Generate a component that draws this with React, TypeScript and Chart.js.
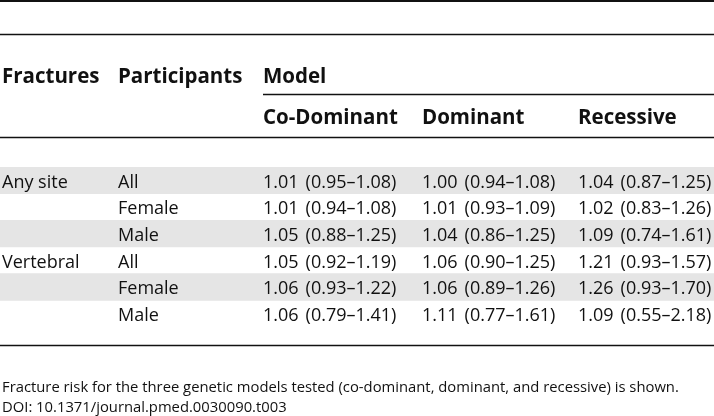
import React, { useEffect, useRef } from "react";
import { Chart, registerables } from "chart.js";

Chart.register(...registerables);

const fractures = ["Any site", "", "", "Vertebral", "", ""];
const participants = ["All", "Female", "Male", "All", "Female", "Male"];
const modelNames = ["Co-Dominant", "Dominant", "Recessive"];
const coDominantOR = [1.01, 1.01, 1.05, 1.05, 1.06, 1.06];
const coDominantLo = [0.95, 0.94, 0.88, 0.92, 0.93, 0.79];
const coDominantHi = [1.08, 1.08, 1.25, 1.19, 1.22, 1.41];
const dominantOR = [1.0, 1.01, 1.04, 1.06, 1.06, 1.11];
const dominantLo = [0.94, 0.93, 0.86, 0.9, 0.89, 0.77];
const dominantHi = [1.08, 1.09, 1.25, 1.25, 1.26, 1.61];
const recessiveOR = [1.04, 1.02, 1.09, 1.21, 1.26, 1.09];
const recessiveLo = [0.87, 0.83, 0.74, 0.93, 0.93, 0.55];
const recessiveHi = [1.25, 1.26, 1.61, 1.57, 1.7, 2.18];
const headers = ["Fractures", "Participants", "Model"];
const captionLines = [
  "Fracture risk for the three genetic models tested (co-dominant, dominant, and recessive) is shown.",
  "DOI: 10.1371/journal.pmed.0030090.t003",
];

const models = [
  { or: coDominantOR, lo: coDominantLo, hi: coDominantHi },
  { or: dominantOR, lo: dominantLo, hi: dominantHi },
  { or: recessiveOR, lo: recessiveLo, hi: recessiveHi },
];

const W = 714;
const H = 416;
const colX = [2, 118, 263, 422, 578];
const CI_GAP = 7;
const INK = "#111";
const FONT = "'Open Sans'";

const tablePlugin = {
  id: "tablePlugin",
  afterDatasetsDraw(chart: any) {
    const ctx = chart.ctx as CanvasRenderingContext2D;
    const y = chart.scales.y;
    ctx.save();
    ctx.strokeStyle = INK;
    const hline = (yy: number, x0: number, x1: number, lw: number) => {
      ctx.lineWidth = lw;
      ctx.beginPath();
      ctx.moveTo(x0, yy);
      ctx.lineTo(x1, yy);
      ctx.stroke();
    };
    hline(1, 0, W, 2);
    hline(34.5, 0, W, 1.5);
    hline(94.5, colX[2], W, 1.5);
    hline(137.5, 0, W, 1.5);
    hline(345.5, 0, W, 1.5);

    ctx.fillStyle = INK;
    ctx.textBaseline = "alphabetic";
    ctx.textAlign = "left";
    ctx.font = `bold 20.5px ${FONT}`;
    headers.forEach((h, i) => ctx.fillText(h, colX[i], 82.5));
    modelNames.forEach((m, i) => ctx.fillText(m, colX[i + 2], 124));

    ctx.font = `18px ${FONT}`;
    participants.forEach((p, r) => {
      const py = y.getPixelForValue(r) + 7.4;
      if (fractures[r]) ctx.fillText(fractures[r], colX[0], py);
      ctx.fillText(p, colX[1], py);
      models.forEach((m, k) => {
        const x = colX[k + 2];
        const orText = m.or[r].toFixed(2);
        ctx.fillText(orText, x, py);
        const cx = x + ctx.measureText(orText).width + CI_GAP;
        ctx.fillText(`(${m.lo[r].toFixed(2)}\u2013${m.hi[r].toFixed(2)})`, cx, py);
      });
    });

    ctx.font = `14.8px ${FONT}`;
    captionLines.forEach((c, i) => ctx.fillText(c, 2, 392 + i * 19.5));
    ctx.restore();
  },
};

export default function App() {
  const ref = useRef<HTMLCanvasElement>(null);
  useEffect(() => {
    document.body.style.margin = "0";
    const chart = new Chart(ref.current!, {
      type: "bar",
      data: {
        labels: participants.map((p, i) => `${i}`),
        datasets: [
          {
            data: participants.map(() => 1),
            backgroundColor: participants.map((_, i) => (i % 2 === 0 ? "#e5e5e5" : "rgba(0,0,0,0)")),
            barPercentage: 1,
            categoryPercentage: 1,
            borderWidth: 0,
          },
        ],
      },
      options: {
        indexAxis: "y",
        responsive: false,
        animation: false,
        events: [],
        layout: { padding: { top: 167, bottom: H - 327, left: 0, right: 0 } },
        plugins: { legend: { display: false }, tooltip: { enabled: false } },
        scales: {
          x: { display: false, min: 0, max: 1 },
          y: { display: false },
        },
      },
      plugins: [tablePlugin],
    });
    return () => chart.destroy();
  }, []);
  return <canvas ref={ref} width={W} height={H} style={{ display: "block" }} />;
}
